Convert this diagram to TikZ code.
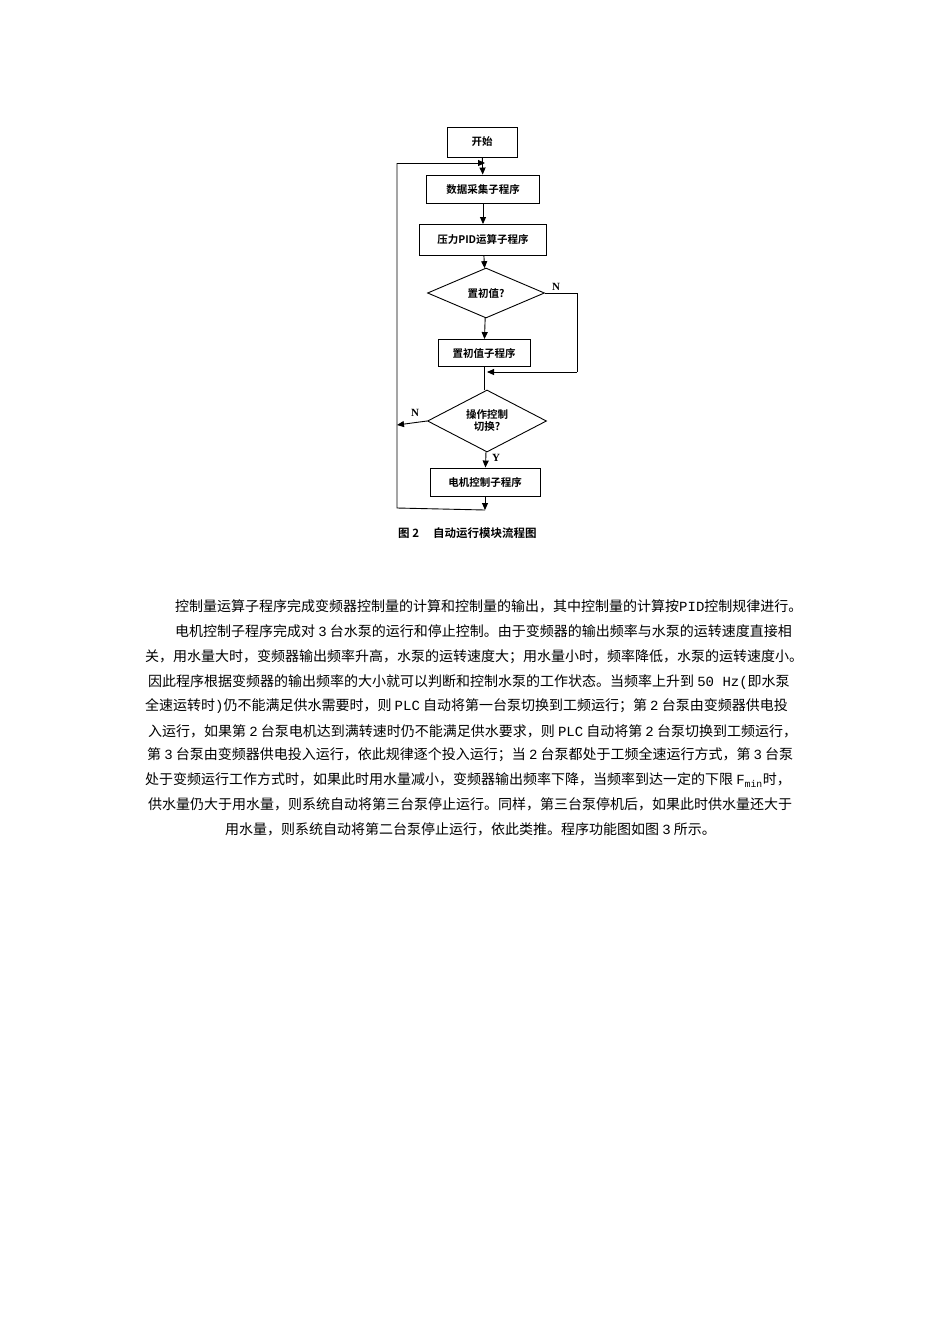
\documentclass[tikz,border=0pt]{standalone}
\usepackage{fontspec}
\setmainfont{Liberation Serif}
\newfontfamily\cjk{Noto Sans CJK SC}
\newfontfamily\cjkb{Noto Sans CJK SC Bold}
\newfontfamily\lat{Liberation Mono}
\usetikzlibrary{shapes.geometric,arrows.meta}
\newcommand{\lt}[1]{{\lat #1}}
\begin{document}
\begin{tikzpicture}[x=1pt,y=-1pt,
  box/.style={draw,line width=0.9pt,minimum height=28pt,inner sep=2pt,font=\cjkb\fontsize{10.5}{12}\selectfont},
  dia/.style={draw,line width=0.9pt,diamond,aspect=2.3,inner sep=1pt,font=\cjkb\fontsize{10.5}{12}\selectfont,align=center},
  ln/.style={line width=0.9pt},
  ar/.style={line width=0.9pt,-{Triangle[length=7pt,width=6pt]}},
  lab/.style={font=\bfseries\fontsize{11}{12}\selectfont},
  para/.style={anchor=west,inner sep=0pt,font=\cjk\fontsize{14}{15}\selectfont}]
\useasboundingbox (0,0) rectangle (950,1344);
\fill[white] (0,0) rectangle (950,1344);
\node[box,minimum width=70pt,minimum height=30pt] (s) at (482,142) {开始};
\node[box,minimum width=113pt] (a) at (483,189) {数据采集子程序};
\node[box,minimum width=127pt,minimum height=31pt] (b) at (483,240) {压力PID运算子程序};
\node[dia,minimum width=117pt,minimum height=50pt] (d1) at (486,293) {置初值?};
\node[box,minimum width=92pt,minimum height=27pt] (c) at (484,353) {置初值子程序};
\node[dia,minimum width=119pt,minimum height=62pt] (d2) at (487,421) {操作控制\\切换?};
\node[box,minimum width=110pt] (e) at (485,482) {电机控制子程序};
\coordinate (top) at (485,163);
\coordinate (j1) at (487,372);
\coordinate (j2) at (577,293);
\coordinate (j3) at (577,372);
\coordinate (bot) at (485,510);
\coordinate (lb) at (397,508);
\coordinate (ltop) at (397,163);
\coordinate (ln) at (397,425);
\draw[ar] (s) -- (a);
\draw[ar] (a) -- (b);
\draw[ar] (b) -- (d1);
\draw[ar] (d1) -- (c);
\draw[ln] (c.south) -- (c.south|-d2.north);
\draw[ln] (d1.east) -- (j2) -- (j3);
\draw[ar] (j3) -- (j1);
\draw[ar] (d2) -- (e);
\draw[ar] (d2.west) -- (ln);
\draw[ar] (e) -- (bot);
\draw[ln] (bot) -- (lb) -- (ltop);
\draw[ar] (ltop) -- (top);
\node[lab] (nn1) at (556,287) {N};
\node[lab] (nn2) at (415,413) {N};
\node[lab] (yy) at (496,458) {Y};
\node[anchor=west,inner sep=0pt,font=\cjkb\fontsize{11.5}{13}\selectfont] (cap) at (398,533) {图 2\hspace{14pt}自动运行模块流程图};
\node[para] (p1) at (175,606) {控制量运算子程序完成变频器控制量的计算和控制量的输出，其中控制量的计算按\lt{PID}控制规律进行。};
\node[para] (p2) at (175,631) {电机控制子程序完成对 \lt{3} 台水泵的运行和停止控制。由于变频器的输出频率与水泵的运转速度直接相};
\node[para] (p3) at (145,657) {关，用水量大时，变频器输出频率升高，水泵的运转速度大；用水量小时，频率降低，水泵的运转速度小。};
\node[para] (p4) at (148,682) {因此程序根据变频器的输出频率的大小就可以判断和控制水泵的工作状态。当频率上升到 \lt{50 Hz(}即水泵};
\node[para] (p5) at (145,706) {全速运转时\lt{)}仍不能满足供水需要时，则 \lt{PLC} 自动将第一台泵切换到工频运行；第 \lt{2} 台泵由变频器供电投};
\node[para] (p6) at (148,731) {入运行，如果第 \lt{2} 台泵电机达到满转速时仍不能满足供水要求，则 \lt{PLC} 自动将第 \lt{2} 台泵切换到工频运行，};
\node[para] (p7) at (147,755) {第 \lt{3} 台泵由变频器供电投入运行，依此规律逐个投入运行；当 \lt{2} 台泵都处于工频全速运行方式，第 \lt{3} 台泵};
\node[para] (p8) at (145,780) {处于变频运行工作方式时，如果此时用水量减小，变频器输出频率下降，当频率到达一定的下限 \lt{F\textsubscript{min}}时，};
\node[para] (p9) at (148,804) {供水量仍大于用水量，则系统自动将第三台泵停止运行。同样，第三台泵停机后，如果此时供水量还大于};
\node[para] (p10) at (225,829) {用水量，则系统自动将第二台泵停止运行，依此类推。程序功能图如图 \lt{3} 所示。};
\end{tikzpicture}
\end{document}
